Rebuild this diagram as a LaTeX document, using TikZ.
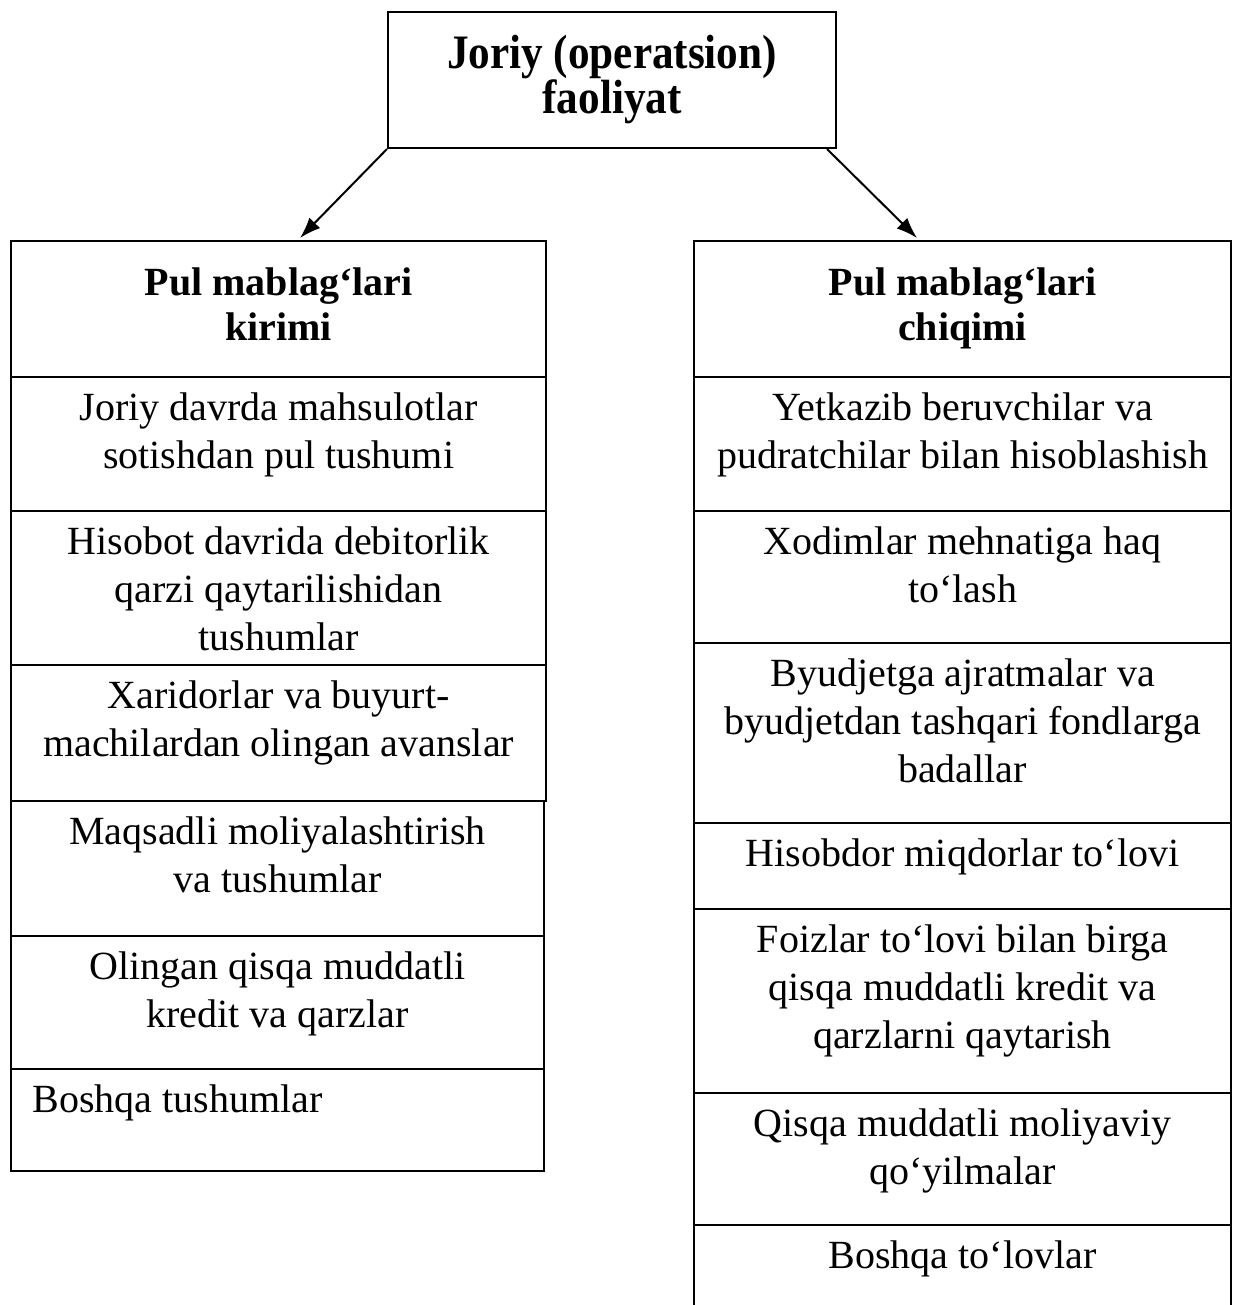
\documentclass[tikz,border=0pt]{standalone}
\usepackage{fontspec}
\setmainfont{Liberation Serif}
\newfontfamily\titlefont[FakeStretch=0.9]{Liberation Serif}
\usetikzlibrary{arrows.meta}
\newcommand\pxu{0.5pt}
\begin{document}
\begin{tikzpicture}[x=0.5pt,y=-0.5pt,
  cellbox/.style={draw, line width=1.1pt, rectangle, inner sep=0pt, anchor=north west},
  celltext/.style={anchor=north, align=center, inner sep=0pt,
    font=\fontsize{20pt}{24pt}\selectfont},
  lefttext/.style={celltext, anchor=north west, align=left},
  headtext/.style={celltext, font=\fontsize{20pt}{22.5pt}\selectfont\bfseries},
  arr/.style={-{Latex[length=10.5pt,width=7.5pt]}, line width=1pt}]
\useasboundingbox (0,0) rectangle (1232,1305);

% title box
\node[draw, line width=1.1pt, minimum width=448*\pxu, minimum height=136*\pxu,
  align=center, inner sep=0pt,
  font=\titlefont\fontsize{24pt}{22.5pt}\selectfont\bfseries] (top) at (612,80)
  {Joriy (operatsion)\\faoliyat};

% inflows column
\node[cellbox, minimum width=535*\pxu, minimum height=136*\pxu] (lh) at (10,240) {};
\node[headtext] (lht) at ([yshift=-27*\pxu]lh.north) {Pul mablag‘lari\\kirimi};
\node[cellbox, minimum width=535*\pxu, minimum height=134*\pxu] (l1) at (10,376) {};
\node[celltext] (l1t) at ([yshift=-16*\pxu]l1.north) {Joriy davrda mahsulotlar\\sotishdan pul tushumi};
\node[cellbox, minimum width=535*\pxu, minimum height=154*\pxu] (l2) at (10,510) {};
\node[celltext] (l2t) at ([yshift=-16*\pxu]l2.north) {Hisobot davrida debitorlik\\qarzi qaytarilishidan\\tushumlar};
\node[cellbox, minimum width=535*\pxu, minimum height=136*\pxu] (l3) at (10,664) {};
\node[celltext] (l3t) at ([yshift=-16*\pxu]l3.north) {Xaridorlar va buyurt-\\machilardan olingan avanslar};
\node[cellbox, minimum width=533*\pxu, minimum height=135*\pxu] (l4) at (10,800) {};
\node[celltext] (l4t) at ([yshift=-16*\pxu]l4.north) {Maqsadli moliyalashtirish\\va tushumlar};
\node[cellbox, minimum width=533*\pxu, minimum height=133*\pxu] (l5) at (10,935) {};
\node[celltext] (l5t) at ([yshift=-16*\pxu]l5.north) {Olingan qisqa muddatli\\kredit va qarzlar};
\node[cellbox, minimum width=533*\pxu, minimum height=102*\pxu] (l6) at (10,1068) {};
\node[lefttext] (l6t) at ([xshift=22*\pxu, yshift=-16*\pxu]l6.north west) {Boshqa tushumlar};

% outflows column
\node[cellbox, minimum width=537*\pxu, minimum height=136*\pxu] (rh) at (693,240) {};
\node[headtext] (rht) at ([yshift=-27*\pxu]rh.north) {Pul mablag‘lari\\chiqimi};
\node[cellbox, minimum width=537*\pxu, minimum height=134*\pxu] (r1) at (693,376) {};
\node[celltext] (r1t) at ([yshift=-16*\pxu]r1.north) {Yetkazib beruvchilar va\\pudratchilar bilan hisoblashish};
\node[cellbox, minimum width=537*\pxu, minimum height=132*\pxu] (r2) at (693,510) {};
\node[celltext] (r2t) at ([yshift=-16*\pxu]r2.north) {Xodimlar mehnatiga haq\\to‘lash};
\node[cellbox, minimum width=537*\pxu, minimum height=180*\pxu] (r3) at (693,642) {};
\node[celltext] (r3t) at ([yshift=-16*\pxu]r3.north) {Byudjetga ajratmalar va\\byudjetdan tashqari fondlarga\\badallar};
\node[cellbox, minimum width=537*\pxu, minimum height=86*\pxu] (r4) at (693,822) {};
\node[celltext] (r4t) at ([yshift=-16*\pxu]r4.north) {Hisobdor miqdorlar to‘lovi};
\node[cellbox, minimum width=537*\pxu, minimum height=184*\pxu] (r5) at (693,908) {};
\node[celltext] (r5t) at ([yshift=-16*\pxu]r5.north) {Foizlar to‘lovi bilan birga\\qisqa muddatli kredit va\\qarzlarni qaytarish};
\node[cellbox, minimum width=537*\pxu, minimum height=132*\pxu] (r6) at (693,1092) {};
\node[celltext] (r6t) at ([yshift=-16*\pxu]r6.north) {Qisqa muddatli moliyaviy\\qo‘yilmalar};
\node[cellbox, minimum width=537*\pxu, minimum height=130*\pxu] (r7) at (693,1224) {};
\node[celltext] (r7t) at ([yshift=-16*\pxu]r7.north) {Boshqa to‘lovlar};

% connectors
\coordinate (ltip) at (300,238);
\coordinate (rtip) at (917,238);
\draw[arr] (top.south west) -- (ltip);
\draw[arr] ([xshift=-10*\pxu]top.south east) -- (rtip);
\end{tikzpicture}
\end{document}
